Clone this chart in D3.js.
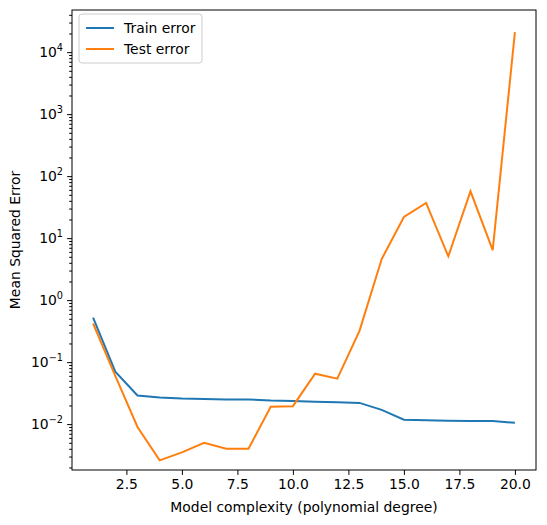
<!DOCTYPE html>
<html>
<head>
<meta charset="utf-8">
<script src="https://cdn.jsdelivr.net/npm/d3@7"></script>
<style>
  body { margin: 0; background: #fff; }
  text { font-family: "DejaVu Sans", sans-serif; }
</style>
</head>
<body>
<svg id="chart"></svg>
<script>
const degrees = [1,2,3,4,5,6,7,8,9,10,11,12,13,14,15,16,17,18,19,20];
const trainError = [0.52,0.07,0.029,0.027,0.026,0.0255,0.025,0.025,0.024,0.0235,0.023,0.0225,0.022,0.017,0.0118,0.0115,0.0113,0.0112,0.0112,0.0105];
const testError = [0.42,0.06,0.009,0.0026,0.0035,0.005,0.004,0.004,0.019,0.0195,0.065,0.054,0.32,4.6,22,37,5.1,57,6.4,21000];
const xTicks = [2.5,5.0,7.5,10.0,12.5,15.0,17.5,20.0];
const yTicks = [-2,-1,0,1,2,3,4];

const W = 547, H = 525;
const margins = { top: 10, right: 11, bottom: 55, left: 72 };
const width = W - margins.left - margins.right;
const height = H - margins.top - margins.bottom;
const fs = 13.9;

const svg = d3.select('#chart').attr('width', W).attr('height', H);
const g = svg.append('g').attr('transform', 'translate(' + margins.left + ',' + margins.top + ')');

const x = d3.scaleLinear().domain([0.05, 20.95]).range([0, width]);
const y = d3.scaleLog().domain([Math.pow(10, -2.74), Math.pow(10, 4.68)]).range([height, 0]);

// x axis
const xAxis = g.append('g').attr('transform', 'translate(0,' + height + ')')
    .call(d3.axisBottom(x).tickValues(xTicks).tickFormat(d3.format('.1f')).tickSizeOuter(0).tickSize(4.9).tickPadding(4));
xAxis.select('.domain').remove();
xAxis.selectAll('text').attr('font-size', fs).attr('fill', '#000').style('font-family', 'DejaVu Sans');

// y axis major + minor
const minor = [];
for (let e = -3; e <= 4; e++) for (let m = 2; m <= 9; m++) {
    const v = m * Math.pow(10, e);
    if (v >= y.domain()[0] && v <= y.domain()[1]) minor.push(v);
}
const yMinor = g.append('g').call(d3.axisLeft(y).tickValues(minor).tickFormat('').tickSize(2.8));
yMinor.select('.domain').remove();
const yAxis = g.append('g')
    .call(d3.axisLeft(y).tickValues(yTicks.map(e => Math.pow(10, e))).tickFormat('').tickSize(4.9));
yAxis.select('.domain').remove();
yTicks.forEach(e => {
    const t = g.append('text').attr('x', -9).attr('y', y(Math.pow(10, e)) + 5)
        .attr('text-anchor', 'end').attr('font-size', fs);
    t.append('tspan').text('10');
    t.append('tspan').attr('dy', -6).attr('font-size', 9.7).text(e < 0 ? '\u2212' + (-e) : e);
});

// lines
const line = vals => d3.line().x((d, i) => x(degrees[i])).y(d => y(d))(vals);
g.append('path').attr('d', line(trainError)).attr('fill', 'none').attr('stroke', '#1f77b4').attr('stroke-width', 2);
g.append('path').attr('d', line(testError)).attr('fill', 'none').attr('stroke', '#ff7f0e').attr('stroke-width', 2);

// frame
g.append('rect').attr('width', width).attr('height', height).attr('fill', 'none').attr('stroke', '#000').attr('stroke-width', 1);

// labels
g.append('text').attr('x', width / 2).attr('y', height + 42).attr('text-anchor', 'middle')
    .attr('font-size', fs).text('Model complexity (polynomial degree)');
g.append('text').attr('transform', 'rotate(-90)').attr('x', -height / 2).attr('y', -52)
    .attr('text-anchor', 'middle').attr('font-size', fs).text('Mean Squared Error');

// legend
const leg = g.append('g').attr('transform', 'translate(7,4)');
leg.append('rect').attr('width', 123).attr('height', 49).attr('rx', 3)
    .attr('fill', '#fff').attr('fill-opacity', 0.8).attr('stroke', '#ccc');
[['Train error', '#1f77b4'], ['Test error', '#ff7f0e']].forEach((s, i) => {
    const yy = 14 + i * 21;
    leg.append('line').attr('x1', 7).attr('x2', 35).attr('y1', yy).attr('y2', yy)
        .attr('stroke', s[1]).attr('stroke-width', 2);
    leg.append('text').attr('x', 45).attr('y', yy + 5).attr('font-size', fs).text(s[0]);
});
</script>
</body>
</html>
